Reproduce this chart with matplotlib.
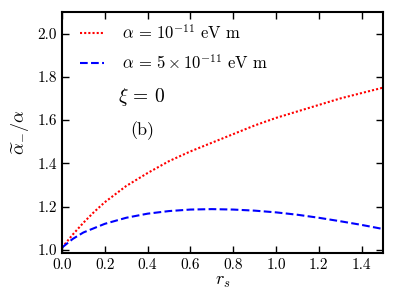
import matplotlib
matplotlib.use("Agg")
import matplotlib.pyplot as plt

# r_s grid and the two curves
rs = [0.0, 0.025, 0.05, 0.1, 0.15, 0.2, 0.3, 0.4, 0.5, 0.6, 0.7,
      0.8, 0.9, 1.0, 1.1, 1.2, 1.3, 1.4, 1.5]
red_vals = [1.01, 1.04, 1.07, 1.125, 1.175, 1.22, 1.295, 1.355, 1.41, 1.455,
            1.495, 1.535, 1.575, 1.61, 1.64, 1.67, 1.70, 1.725, 1.75]
blue_vals = [1.01, 1.03, 1.05, 1.08, 1.10, 1.12, 1.148, 1.167, 1.179, 1.186,
             1.188, 1.186, 1.181, 1.173, 1.162, 1.148, 1.132, 1.115, 1.096]

labels = [r"$\alpha\, =\, 10^{-11}\ \mathrm{eV\ m}$",
          r"$\alpha\, =\, 5\times 10^{-11}\ \mathrm{eV\ m}$"]
xticks = [0.0, 0.2, 0.4, 0.6, 0.8, 1.0, 1.2, 1.4]
yticks = [1.0, 1.2, 1.4, 1.6, 1.8, 2.0]

plt.rcParams['font.family'] = 'serif'
plt.rcParams['font.serif'] = ['cmr10']
plt.rcParams['mathtext.fontset'] = 'cm'
plt.rcParams['axes.formatter.use_mathtext'] = True
plt.rcParams['xtick.direction'] = 'in'
plt.rcParams['ytick.direction'] = 'in'
plt.rcParams['xtick.top'] = True
plt.rcParams['ytick.right'] = True

fig = plt.figure(figsize=(3.99, 2.99), dpi=100)
ax = fig.add_axes([62/399, 1 - 253/299, 321/399, 241/299])

ax.plot(rs, red_vals, color='red', linestyle=(0, (1, 1)), linewidth=1.5, label=labels[0])
ax.plot(rs, blue_vals, color='blue', linestyle='--', linewidth=1.5, label=labels[1])

ax.set_xlim(0, 1.5)
ax.set_ylim(0.985, 2.1)
ax.set_xticks(xticks)
ax.set_yticks(yticks)
ax.set_xticklabels(["%.1f" % t for t in xticks])
ax.set_yticklabels(["%.1f" % t for t in yticks])
ax.tick_params(labelsize=11, length=5, width=1)
for s in ax.spines.values():
    s.set_linewidth(1.5)

ax.set_xlabel(r"$r_s$", fontsize=13, labelpad=2)
ax.set_ylabel(r"$\widetilde{\alpha}_{-}/\alpha$", fontsize=13)

ax.text(0.26, 1.705, r"$\xi\, =\, 0$", fontsize=14, va='center')
ax.text(0.32, 1.55, "(b)", fontsize=13, va='center')

ax.legend(loc='upper left', bbox_to_anchor=(0, 1.03), frameon=False, fontsize=12,
          handlelength=1.4, handletextpad=1.1, labelspacing=0.7, borderaxespad=0.7)

fig.savefig("out.png", dpi=100)
